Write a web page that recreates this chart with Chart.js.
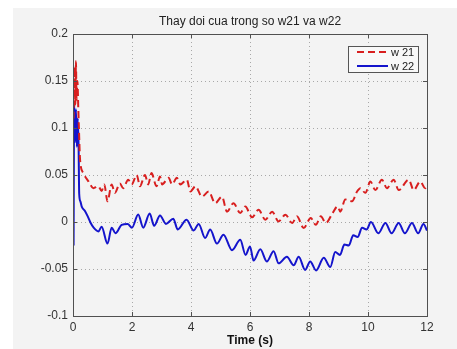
<!DOCTYPE html>
<html>
<head>
<meta charset="utf-8">
<script src="https://cdn.jsdelivr.net/npm/chart.js@4/dist/chart.umd.min.js"></script>
<style>
  html, body { margin: 0; padding: 0; background: #ffffff; }
  #wrap { width: 457px; height: 349px; }
</style>
</head>
<body>
<div id="wrap"><canvas id="c" width="457" height="349"></canvas></div>
<script>
// ---- data ----
const chartTitle = 'Thay doi cua trong so w21 va w22';
const xAxisTitle = 'Time (s)';
const seriesNames = ['w 21', 'w 22'];

const xTicks = [0, 2, 4, 6, 8, 10, 12];
const yTicks = [-0.1, -0.05, 0, 0.05, 0.1, 0.15, 0.2];
const yTickLabels = ['-0.1', '-0.05', '0', '0.05', '0.1', '0.15', '0.2'];

const w21Time = [0.02,0.05,0.08,0.10,0.12,0.15,0.18,0.20,0.24,0.35,0.53,0.69,0.86,0.97,1.06,1.17,1.31,1.42,1.59,1.70,1.87,1.99,2.16,2.27,2.44,2.55,2.66,2.83,2.95,3.02,3.24,3.36,3.52,3.64,3.86,3.98,4.15,4.37,4.60,4.82,5.05,5.22,5.44,5.67,5.84,6.07,6.29,6.52,6.75,6.97,7.20,7.43,7.59,7.82,8.06,8.23,8.40,8.57,8.80,8.97,9.06,9.23,9.46,9.63,9.74,9.91,10.08,10.25,10.47,10.64,10.87,11.04,11.38,11.55,11.77,11.94,12.0];
const w21Value = [0.11,0.165,0.125,0.171,0.13,0.15,0.12,0.10,0.066,0.052,0.043,0.036,0.038,0.033,0.040,0.022,0.040,0.031,0.041,0.036,0.045,0.040,0.050,0.038,0.050,0.040,0.052,0.038,0.0485,0.040,0.047,0.040,0.047,0.040,0.045,0.0325,0.038,0.027,0.0325,0.020,0.027,0.011,0.020,0.0096,0.0166,0.005,0.013,0.0024,0.011,0.0006,0.0078,-0.001,0.006,-0.0064,0.0042,-0.003,0.006,-0.001,0.0096,0.0166,0.011,0.024,0.022,0.0325,0.036,0.031,0.043,0.034,0.045,0.036,0.045,0.034,0.045,0.034,0.043,0.036,0.038];

const w22Time = [0.02,0.04,0.07,0.10,0.13,0.16,0.19,0.21,0.25,0.30,0.40,0.50,0.60,0.70,0.86,0.97,1.17,1.31,1.44,1.65,1.85,2.00,2.21,2.38,2.60,2.75,2.95,3.15,3.40,3.55,3.85,4.09,4.26,4.48,4.65,4.88,5.10,5.39,5.67,5.85,6.00,6.12,6.35,6.57,6.80,6.97,7.25,7.48,7.65,7.87,8.04,8.24,8.50,8.72,8.89,9.05,9.20,9.35,9.50,9.65,9.80,9.95,10.10,10.35,10.59,10.80,11.04,11.25,11.49,11.70,11.88,12.0];
const w22Value = [-0.025,0.125,0.085,0.12,0.08,0.11,0.08,0.03,0.022,0.016,0.012,0.006,-0.001,-0.006,-0.010,-0.005,-0.023,-0.006,-0.012,-0.003,-0.002,-0.006,0.008,-0.006,0.009,-0.004,0.007,-0.002,0.0035,-0.008,0.0025,-0.009,-0.002,-0.017,-0.008,-0.023,-0.0135,-0.030,-0.019,-0.035,-0.026,-0.041,-0.029,-0.042,-0.031,-0.044,-0.037,-0.046,-0.037,-0.051,-0.042,-0.0515,-0.038,-0.048,-0.032,-0.035,-0.024,-0.025,-0.014,-0.016,-0.006,-0.008,0.0,-0.012,-0.001,-0.012,-0.001,-0.012,-0.001,-0.012,-0.002,-0.009];

// ---- build chart ----
const toPoints = (xs, ys) => xs.map((x, i) => ({ x: x, y: ys[i] }));
const FONT = "'Liberation Sans', Arial, Helvetica, sans-serif";

const bgPlugin = {
  id: 'bgPlugin',
  beforeDraw(chart) {
    const ctx = chart.ctx;
    ctx.save();
    ctx.fillStyle = '#ffffff';
    ctx.fillRect(0, 0, chart.width, chart.height);
    ctx.fillStyle = '#f3f3f3';
    ctx.fillRect(13, 8, chart.width - 13, chart.height - 8);
    ctx.restore();
  }
};

const boxPlugin = {
  id: 'boxPlugin',
  afterDatasetsDraw(chart) {
    const ctx = chart.ctx;
    const a = chart.chartArea;
    const xs = chart.scales.x, ys = chart.scales.y;
    ctx.save();
    // title centred over the axes
    ctx.fillStyle = '#222222';
    ctx.font = '12px ' + FONT;
    ctx.textAlign = 'center';
    ctx.textBaseline = 'middle';
    ctx.fillText(chartTitle, (a.left + a.right) / 2, 22);

    ctx.strokeStyle = '#505050';
    ctx.lineWidth = 1;
    ctx.setLineDash([]);
    ctx.strokeRect(Math.round(a.left) + 0.5, Math.round(a.top) + 0.5,
                   Math.round(a.right - a.left), Math.round(a.bottom - a.top));
    ctx.beginPath();
    xTicks.forEach(v => {
      const px = Math.round(xs.getPixelForValue(v)) + 0.5;
      ctx.moveTo(px, a.bottom); ctx.lineTo(px, a.bottom - 4);
      ctx.moveTo(px, a.top); ctx.lineTo(px, a.top + 4);
    });
    yTicks.forEach(v => {
      const py = Math.round(ys.getPixelForValue(v)) + 0.5;
      ctx.moveTo(a.left, py); ctx.lineTo(a.left + 4, py);
      ctx.moveTo(a.right, py); ctx.lineTo(a.right - 4, py);
    });
    ctx.stroke();

    // legend box
    const lx = 348, ly = 46, lw = 70, lh = 26;
    ctx.fillStyle = '#f8f8f8';
    ctx.fillRect(lx, ly, lw, lh);
    ctx.strokeStyle = '#555555';
    ctx.strokeRect(lx + 0.5, ly + 0.5, lw, lh);
    ctx.font = '11px ' + FONT;
    ctx.textBaseline = 'middle';
    ctx.textAlign = 'left';
    chart.data.datasets.forEach((ds, i) => {
      const y = ly + 6 + i * 14;
      ctx.strokeStyle = ds.borderColor;
      ctx.lineWidth = 2;
      ctx.setLineDash(ds.borderDash || []);
      ctx.beginPath();
      ctx.moveTo(357, y); ctx.lineTo(388, y);
      ctx.stroke();
      ctx.setLineDash([]);
      ctx.fillStyle = '#222222';
      ctx.fillText(ds.label, 391, y + 1);
    });
    ctx.restore();
  }
};

new Chart(document.getElementById('c'), {
  type: 'line',
  data: {
    datasets: [
      {
        label: seriesNames[0],
        data: toPoints(w21Time, w21Value),
        borderColor: '#d81f1f',
        borderWidth: 2,
        borderDash: [7, 4],
        pointRadius: 0,
        fill: false,
        cubicInterpolationMode: 'monotone'
      },
      {
        label: seriesNames[1],
        data: toPoints(w22Time, w22Value),
        borderColor: '#1414cc',
        borderWidth: 2,
        pointRadius: 0,
        fill: false,
        cubicInterpolationMode: 'monotone'
      }
    ]
  },
  options: {
    responsive: false,
    animation: false,
    devicePixelRatio: 1,
    layout: { padding: { left: 0, right: 30, top: 34, bottom: 0 } },
    plugins: {
      legend: { display: false },
      tooltip: { enabled: false },
      title: { display: false }
    },
    scales: {
      x: {
        type: 'linear',
        min: 0, max: 12,
        afterBuildTicks(scale) { scale.ticks = xTicks.map(v => ({ value: v })); },
        afterFit(scale) { scale.height = 33; },
        grid: { color: '#a8a8a8', lineWidth: 1, drawTicks: false },
        border: { display: false, dash: [1, 3] },
        ticks: {
          color: '#333333',
          font: { family: FONT, size: 12 },
          padding: 4,
          maxRotation: 0,
          callback: v => String(v)
        },
        title: {
          display: true,
          text: xAxisTitle,
          color: '#111111',
          font: { family: FONT, size: 12, weight: 'bold' },
          padding: { top: 0, bottom: 1 }
        }
      },
      y: {
        type: 'linear',
        min: -0.1, max: 0.2,
        afterBuildTicks(scale) { scale.ticks = yTicks.map(v => ({ value: v })); },
        afterFit(scale) { scale.width = 73; },
        grid: { color: '#a8a8a8', lineWidth: 1, drawTicks: false },
        border: { display: false, dash: [1, 3] },
        ticks: {
          color: '#333333',
          font: { family: FONT, size: 12 },
          padding: 5,
          callback: v => {
            const i = yTicks.findIndex(t => Math.abs(t - v) < 1e-9);
            return i >= 0 ? yTickLabels[i] : '';
          }
        }
      }
    }
  },
  plugins: [bgPlugin, boxPlugin]
});
</script>
</body>
</html>
